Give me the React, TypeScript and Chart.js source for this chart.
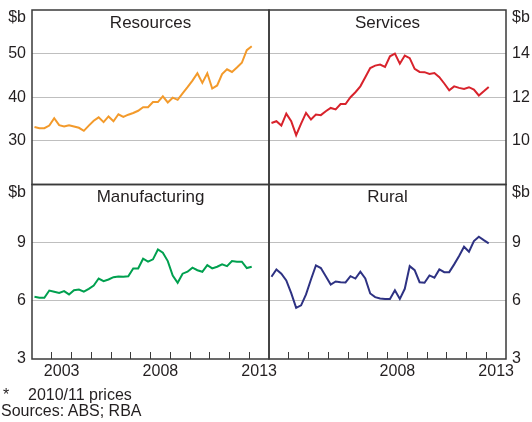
import React, { useEffect, useRef } from 'react';
import { Chart, registerables } from 'chart.js';

Chart.register(...registerables);

const FONT = '"Liberation Sans", Arial, Helvetica, sans-serif';
const TEXT = '#231f20';
const FRAME = '#3a3a3a';
const GRID = '#bfbfbf';

// Quarterly data, 2002 Q1 to 2013 Q1 ($b, 2010/11 prices)
const FIRST_YEAR = 2002;
const LAST_YEAR = 2014;

const resources = [
  33.2, 32.9, 32.9, 33.5, 35.2, 33.6, 33.3, 33.6, 33.3, 33.0,
  32.3, 33.5, 34.6, 35.4, 34.3, 35.6, 34.5, 36.1, 35.5, 36.0,
  36.4, 36.9, 37.7, 37.7, 38.9, 38.9, 40.2, 38.8, 39.9, 39.4,
  40.9, 42.3, 43.8, 45.5, 43.3, 45.5, 42.0, 42.7, 45.3, 46.4,
  45.8, 46.8, 47.9, 50.8, 51.7,
];
const services = [
  10.82, 10.9, 10.7, 11.25, 10.9, 10.26, 10.79, 11.28, 10.98, 11.21,
  11.18, 11.36, 11.51, 11.44, 11.69, 11.69, 12.0, 12.23, 12.5, 12.92,
  13.34, 13.45, 13.5, 13.39, 13.88, 14.0, 13.54, 13.91, 13.79, 13.3,
  13.16, 13.15, 13.07, 13.11, 12.92, 12.63, 12.32, 12.5, 12.43, 12.38,
  12.46, 12.35, 12.08, 12.27, 12.47,
];
const manufacturing = [
  6.21, 6.16, 6.16, 6.53, 6.47, 6.41, 6.5, 6.33, 6.55, 6.58,
  6.47, 6.62, 6.79, 7.15, 7.01, 7.1, 7.22, 7.26, 7.24, 7.27,
  7.67, 7.67, 8.17, 8.02, 8.14, 8.65, 8.48, 8.05, 7.3, 6.93,
  7.4, 7.5, 7.71, 7.58, 7.5, 7.84, 7.67, 7.76, 7.88, 7.79,
  8.05, 8.02, 8.02, 7.69, 7.76,
];
const rural = [
  7.24, 7.62, 7.4, 7.05, 6.4, 5.64, 5.77, 6.33, 7.1, 7.83,
  7.69, 7.27, 6.84, 7.0, 6.96, 6.95, 7.27, 7.15, 7.5, 7.15,
  6.38, 6.19, 6.12, 6.1, 6.1, 6.55, 6.1, 6.62, 7.79, 7.58,
  6.96, 6.93, 7.31, 7.19, 7.62, 7.48, 7.48, 7.88, 8.31, 8.79,
  8.53, 9.08, 9.31, 9.13, 8.96,
];

const leftYearLabels = [2003, 2008, 2013];
const rightYearLabels = [2008, 2013];
const resourcesTicks = [20, 30, 40, 50, 60];
const servicesTicks = [8, 10, 12, 14, 16];
const bottomTicks = [3, 6, 9, 12];
const unitLabel = '$b';
const noteMark = '*';
const noteText = '2010/11 prices';
const sourceText = 'Sources: ABS; RBA';

const toPoints = (values: number[]) =>
  values.map((v, i) => ({ x: FIRST_YEAR + (i + 0.5) / 4, y: v }));

function makeY(position: 'left' | 'right', ticks: number[], weight: number, showMin: boolean, drawGrid: boolean) {
  const min = ticks[0];
  const max = ticks[ticks.length - 1];
  return {
    type: 'linear',
    position,
    stack: position,
    stackWeight: 1,
    weight,
    min,
    max,
    afterBuildTicks: (s: any) => {
      s.ticks = ticks.map((v) => ({ value: v }));
    },
    afterFit: (s: any) => {
      s.width = position === 'left' ? 32 : 26;
      s.paddingTop = 0;
      s.paddingBottom = 0;
    },
    border: { display: false },
    grid: {
      drawTicks: false,
      drawOnChartArea: drawGrid,
      lineWidth: 1,
      color: (c: any) =>
        c.tick && (c.tick.value === min || c.tick.value === max) ? 'rgba(0,0,0,0)' : GRID,
    },
    ticks: {
      autoSkip: false,
      padding: 6,
      color: TEXT,
      font: { family: FONT, size: 16, lineHeight: 1 },
      callback: (v: number, i: number) =>
        i === ticks.length - 1 ? ['', unitLabel] : i === 0 && !showMin ? '' : String(v),
    },
  };
}

function makeX(labelYears: number[], weight: number) {
  return {
    type: 'linear',
    position: 'bottom',
    stack: 'bottom',
    stackWeight: 1,
    weight,
    min: FIRST_YEAR,
    max: LAST_YEAR,
    afterBuildTicks: (s: any) => {
      const t: { value: number }[] = [];
      for (let y = FIRST_YEAR; y <= LAST_YEAR; y += 0.5) t.push({ value: y });
      s.ticks = t;
    },
    afterFit: (s: any) => {
      s.height = 63;
      s.paddingLeft = 0;
      s.paddingRight = 0;
    },
    border: { display: false },
    grid: {
      drawOnChartArea: false,
      drawTicks: true,
      tickLength: -7,
      lineWidth: 1,
      color: 'rgba(0,0,0,0)',
      tickColor: (c: any) =>
        c.tick && Number.isInteger(c.tick.value) && c.tick.value > FIRST_YEAR && c.tick.value < LAST_YEAR
          ? FRAME
          : 'rgba(0,0,0,0)',
    },
    ticks: {
      autoSkip: false,
      maxRotation: 0,
      minRotation: 0,
      padding: 10,
      color: TEXT,
      font: { family: FONT, size: 16, lineHeight: 1.2 },
      callback: (v: number) => (labelYears.includes(v - 0.5) ? String(v - 0.5) : ''),
    },
  };
}

const panelPlugin = {
  id: 'panelFrames',
  afterDatasetsDraw(chart: any) {
    const ctx = chart.ctx;
    chart.data.datasets.forEach((ds: any, i: number) => {
      const meta = chart.getDatasetMeta(i);
      const xs = meta.xScale;
      const ys = meta.yScale;
      ctx.save();
      ctx.strokeStyle = FRAME;
      ctx.lineWidth = 1.5;
      ctx.strokeRect(xs.left, ys.top, xs.right - xs.left, ys.bottom - ys.top);
      ctx.fillStyle = TEXT;
      ctx.font = `17px ${FONT}`;
      ctx.textAlign = 'center';
      ctx.textBaseline = 'middle';
      ctx.fillText(ds.label, (xs.left + xs.right) / 2, ys.top + 13);
      ctx.restore();
    });
  },
};

export default function App() {
  const ref = useRef<HTMLCanvasElement | null>(null);

  useEffect(() => {
    if (!ref.current) return;
    const chart = new Chart(ref.current, {
      type: 'line',
      data: {
        datasets: [
          { label: 'Resources', data: toPoints(resources), xAxisID: 'xL', yAxisID: 'yTL', borderColor: '#f39a2b' },
          { label: 'Services', data: toPoints(services), xAxisID: 'xR', yAxisID: 'yTR', borderColor: '#d8232c' },
          { label: 'Manufacturing', data: toPoints(manufacturing), xAxisID: 'xL', yAxisID: 'yBL', borderColor: '#00a04f' },
          { label: 'Rural', data: toPoints(rural), xAxisID: 'xR', yAxisID: 'yBR', borderColor: '#2e3283' },
        ],
      } as any,
      options: {
        animation: false,
        responsive: false,
        devicePixelRatio: 1,
        layout: { padding: { top: 10, left: 0, right: 0, bottom: 0 } },
        elements: {
          point: { radius: 0 },
          line: { borderWidth: 2, tension: 0 },
        },
        plugins: {
          legend: { display: false },
          tooltip: { enabled: false },
        },
        scales: {
          xL: makeX(leftYearLabels, 0),
          xR: makeX(rightYearLabels, 1),
          yTL: makeY('left', resourcesTicks, 1, false, true),
          yBL: makeY('left', bottomTicks, 0, true, true),
          yTR: makeY('right', servicesTicks, 0, false, false),
          yBR: makeY('right', bottomTicks, 1, true, false),
        } as any,
      },
      plugins: [panelPlugin],
    } as any);
    return () => chart.destroy();
  }, []);

  const noteStyle: React.CSSProperties = {
    position: 'absolute',
    fontFamily: FONT,
    fontSize: 16,
    lineHeight: '16px',
    color: TEXT,
    whiteSpace: 'nowrap',
  };

  return (
    <div style={{ position: 'absolute', left: 0, top: 0, width: 532, height: 422, background: '#fff' }}>
      <canvas ref={ref} width={532} height={422} style={{ position: 'absolute', left: 0, top: 0 }} />
      <div style={{ ...noteStyle, left: 3, top: 387 }}>{noteMark}</div>
      <div style={{ ...noteStyle, left: 28, top: 387 }}>{noteText}</div>
      <div style={{ ...noteStyle, left: 1, top: 403 }}>{sourceText}</div>
    </div>
  );
}
